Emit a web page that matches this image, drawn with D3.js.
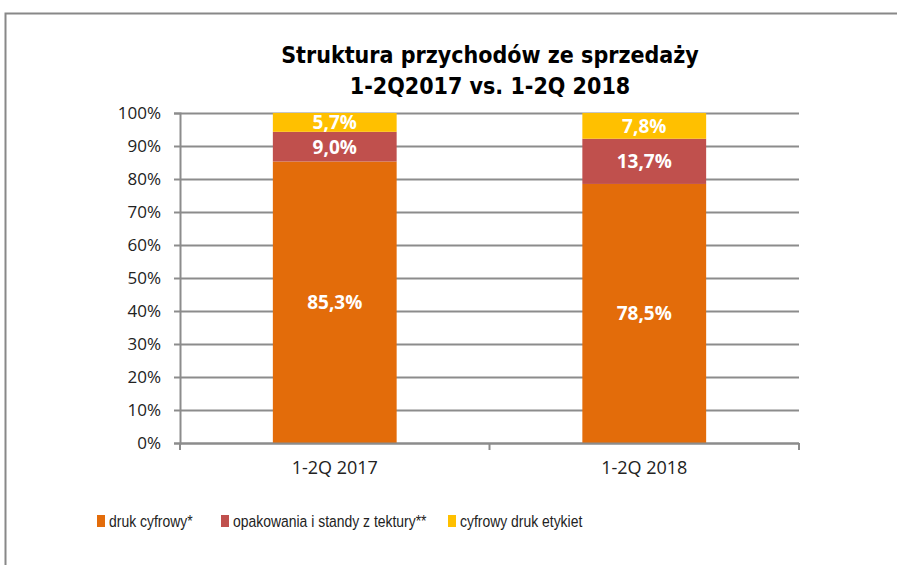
<!DOCTYPE html>
<html>
<head>
<meta http-equiv="Content-Type" content="text/html; charset=UTF-8">
<style>
body { margin: 0; background: #fff; }
svg { display: block; }
.tick text { font-family: "Open Sans", "Liberation Sans", sans-serif; font-size: 17px; fill: #222; }
</style>
</head>
<body>

<div class="container"></div>

<script src="https://cdn.jsdelivr.net/npm/d3@7"></script>
<script>

var width = 897;
var height = 565;

// data
var categories = ["1-2Q 2017", "1-2Q 2018"];
var seriesNames = ["druk cyfrowy*", "opakowania i standy z tektury**", "cyfrowy druk etykiet"];
var drukCyfrowy = [85.3, 78.5];
var opakowania = [9.0, 13.7];
var etykiety = [5.7, 7.8];
var yTicks = [0, 10, 20, 30, 40, 50, 60, 70, 80, 90, 100];

var colors = ["#E36C0A", "#C0504D", "#FFC000"];

var plot = { left: 180, right: 799, top: 113, bottom: 443 };

var svg = d3.select(".container")
            .append("svg")
                .attr("width", width)
                .attr("height", height);

// outer frame (only top and left edge visible)
svg.append("path")
   .attr("d", "M5.5," + height + "V13.5H" + width)
   .attr("fill", "none")
   .attr("stroke", "#888")
   .attr("stroke-width", 2);

// title
var title = svg.append("text")
   .attr("text-anchor", "middle")
   .style("font-family", "'DejaVu Sans Condensed', 'DejaVu Sans', sans-serif")
   .style("font-weight", "bold")
   .style("font-size", "23px")
   .style("fill", "#000");
title.append("tspan").attr("x", 490).attr("y", 63).text("Struktura przychodów ze sprzedaży");
title.append("tspan").attr("x", 490).attr("y", 94).text("1-2Q2017 vs. 1-2Q 2018");

var x = d3.scaleBand()
          .domain(categories)
          .range([plot.left, plot.right])
          .paddingInner(0.6)
          .paddingOuter(0.3);

var y = d3.scaleLinear()
          .domain([0, 100])
          .range([plot.bottom, plot.top]);

// gridlines
svg.append("g")
   .selectAll("line")
   .data(yTicks)
   .enter().append("line")
       .attr("x1", plot.left)
       .attr("x2", plot.right)
       .attr("y1", function(d) { return Math.round(y(d)) + 0.5; })
       .attr("y2", function(d) { return Math.round(y(d)) + 0.5; })
       .attr("stroke", "#8c8c8c")
       .attr("stroke-width", 2);

// y axis
var yAxis = svg.append("g")
   .attr("transform", "translate(" + plot.left + ",0)")
   .call(d3.axisLeft(y).tickValues(yTicks).tickSize(6).tickPadding(13)
           .tickFormat(function(d) { return d + "%"; }));
yAxis.selectAll("line, path").attr("stroke", "#8c8c8c").attr("stroke-width", 2);

// stacked data
var rows = categories.map(function(c, i) {
    return { cat: c, s0: drukCyfrowy[i], s1: opakowania[i], s2: etykiety[i] };
});
var stack = d3.stack().keys(["s0", "s1", "s2"])(rows);

var layer = svg.selectAll(".layer")
   .data(stack)
   .enter().append("g")
       .attr("class", "layer")
       .attr("fill", function(d, i) { return colors[i]; });

layer.selectAll("rect")
   .data(function(d) { return d; })
   .enter().append("rect")
       .attr("x", function(d) { return x(d.data.cat); })
       .attr("width", x.bandwidth())
       .attr("y", function(d) { return y(d[1]); })
       .attr("height", function(d) { return y(d[0]) - y(d[1]); });

layer.selectAll("text")
   .data(function(d) { return d; })
   .enter().append("text")
       .attr("x", function(d) { return x(d.data.cat) + x.bandwidth() / 2; })
       .attr("y", function(d) { return (y(d[0]) + y(d[1])) / 2; })
       .attr("dy", "0.36em")
       .attr("text-anchor", "middle")
       .style("font-family", "'Open Sans', 'Liberation Sans', sans-serif")
       .style("font-weight", "bold")
       .style("font-size", "19px")
       .style("fill", "#fff")
       .text(function(d) { return d3.format(".1f")(d[1] - d[0]).replace(".", ",") + "%"; });

// category axis
var xAxis = svg.append("g")
   .attr("transform", "translate(0," + plot.bottom + ")")
   .call(d3.axisBottom(x).tickSize(0).tickPadding(18));
xAxis.select(".domain").remove();
xAxis.selectAll(".tick text").style("font-size", "18px");
xAxis.append("line")
   .attr("x1", plot.left).attr("x2", plot.right)
   .attr("y1", 0.5).attr("y2", 0.5)
   .attr("stroke", "#8c8c8c").attr("stroke-width", 2);
xAxis.selectAll(".sep")
   .data([plot.left, (plot.left + plot.right) / 2, plot.right])
   .enter().append("line")
       .attr("x1", function(d) { return d; })
       .attr("x2", function(d) { return d; })
       .attr("y1", 0).attr("y2", 7)
       .attr("stroke", "#8c8c8c").attr("stroke-width", 2);

// legend (narrow text, squeezed horizontally like the original)
var legendX = [97, 221, 448];
var legend = svg.selectAll(".legend")
   .data(seriesNames)
   .enter().append("g")
       .attr("class", "legend")
       .attr("transform", function(d, i) { return "translate(" + legendX[i] + ",515)"; });
legend.append("rect")
   .attr("width", 8).attr("height", 12)
   .attr("fill", function(d, i) { return colors[i]; });
legend.append("text")
   .attr("transform", "translate(12,12) scale(0.82,1)")
   .style("font-family", "'Liberation Sans', Arial, sans-serif")
   .style("font-size", "17px")
   .style("fill", "#222")
   .text(function(d) { return d; });

</script>
</body>
</html>
